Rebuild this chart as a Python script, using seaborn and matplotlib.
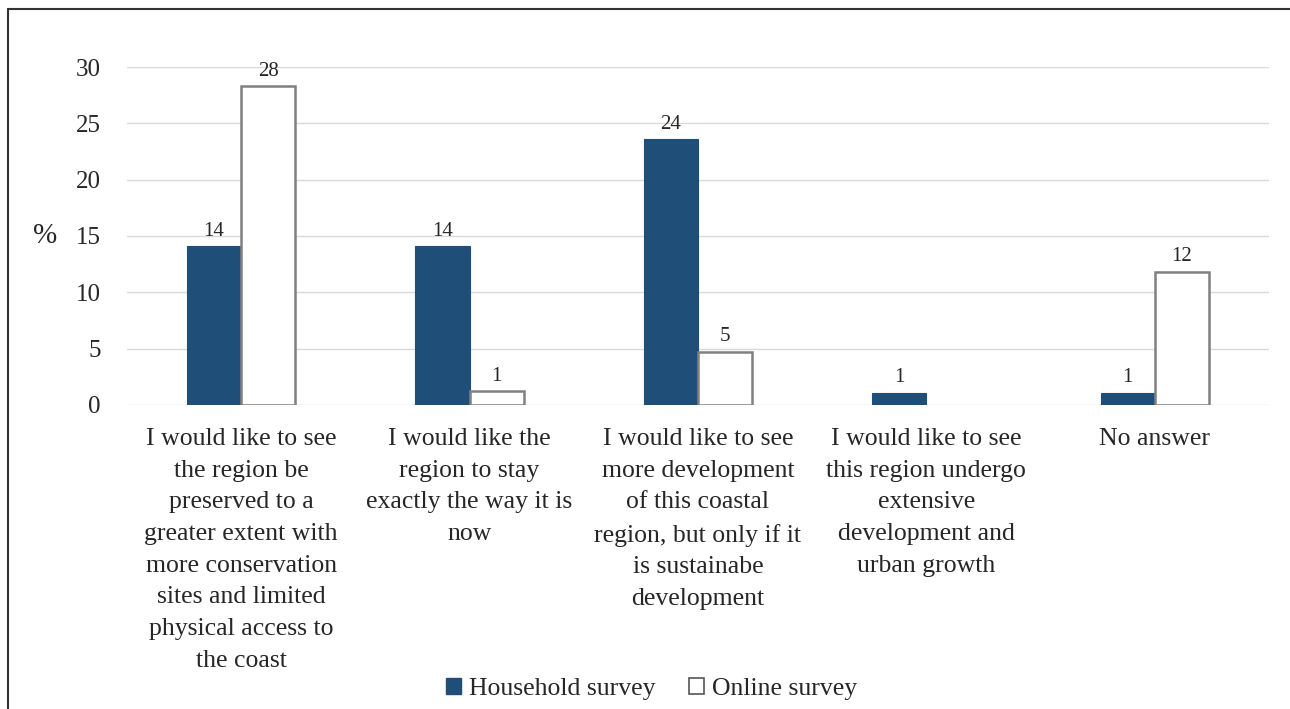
import matplotlib
matplotlib.use("Agg")
import matplotlib.pyplot as plt
import seaborn as sns
import pandas as pd
from matplotlib.patches import Patch
from matplotlib.lines import Line2D

categories = [
    "I would like to see\nthe region be\npreserved to a\ngreater extent with\nmore conservation\nsites and limited\nphysical access to\nthe coast",
    "I would like the\nregion to stay\nexactly the way it is\nnow",
    "I would like to see\nmore development\nof this coastal\nregion, but only if it\nis sustainabe\ndevelopment",
    "I would like to see\nthis region undergo\nextensive\ndevelopment and\nurban growth",
    "No answer",
]
household = [14.1, 14.1, 23.6, 1.1, 1.1]
online = [28.3, 1.2, 4.7, 0.0, 11.8]
series_names = ["Household survey", "Online survey"]
yticks = [0, 5, 10, 15, 20, 25, 30]

sns.set_theme(style="white")
plt.rcParams["font.family"] = ["Liberation Serif", "DejaVu Serif"]

df = pd.DataFrame({
    "cat": categories * 2,
    "value": household + online,
    "series": [series_names[0]] * len(categories) + [series_names[1]] * len(categories),
})

fig = plt.figure(figsize=(12.9, 7.09), dpi=100)
ax = fig.add_axes([0.0984, 0.4288, 0.8853, 0.4767])

navy = "#1f4e79"
txt = "#262626"
sns.barplot(data=df, x="cat", y="value", hue="series", order=categories,
            hue_order=series_names, width=0.475, ax=ax, legend=False,
            palette=[navy, "white"], saturation=1)

for i, cont in enumerate(ax.containers):
    for p in cont:
        if i == 0:
            p.set_facecolor(navy)
            p.set_edgecolor(navy)
            p.set_linewidth(0.8)
        else:
            p.set_facecolor("white")
            p.set_edgecolor("#808080")
            p.set_linewidth(1.8)
        if p.get_height() == 0:
            p.set_linewidth(0)
    vals = household if i == 0 else online
    labels = [f"{v:.0f}" if v > 0 else "" for v in vals]
    ax.bar_label(cont, labels=labels, padding=4, fontsize=15, color=txt)

ax.set_xlim(-0.5, 4.5)
ax.set_ylim(0, 30)
ax.set_yticks(yticks)
ax.yaxis.grid(True, color="#d9d9d9", linewidth=1)
ax.set_axisbelow(True)
for s in ax.spines.values():
    s.set_visible(False)
ax.tick_params(axis="y", length=0, pad=19, labelsize=18, labelcolor=txt)
ax.tick_params(axis="x", length=0)
ax.set_xticklabels([""] * len(categories))
ax.set_xlabel("")
ax.set_ylabel("")

for i, lab in enumerate(categories):
    ax.annotate(lab, xy=(i, 0), xycoords=("data", "axes fraction"),
                xytext=(0, -16.5), textcoords="offset points",
                ha="center", va="top", fontsize=18.5, color=txt,
                linespacing=1.57)

fig.text(45 / 1290, 1 - 236 / 709, "%", fontsize=21, color=txt,
         ha="center", va="center")

handles = [Patch(facecolor=navy, edgecolor=navy),
           Patch(facecolor="white", edgecolor="#555555", linewidth=1.2)]
fig.legend(handles, series_names, loc="center", bbox_to_anchor=(0.505, 1 - 689 / 709),
           ncol=2, frameon=False, fontsize=18.5, handlelength=0.6, handleheight=0.6,
           handletextpad=0.3, columnspacing=1.3, labelcolor=txt)

fig.add_artist(Line2D([8 / 1290, 1], [1 - 9 / 709, 1 - 9 / 709], transform=fig.transFigure,
                      color="#333333", linewidth=1.5))
fig.add_artist(Line2D([8 / 1290, 8 / 1290], [0, 1 - 9 / 709], transform=fig.transFigure,
                      color="#333333", linewidth=1.5))

fig.savefig("out.png", dpi=100, facecolor="white")
